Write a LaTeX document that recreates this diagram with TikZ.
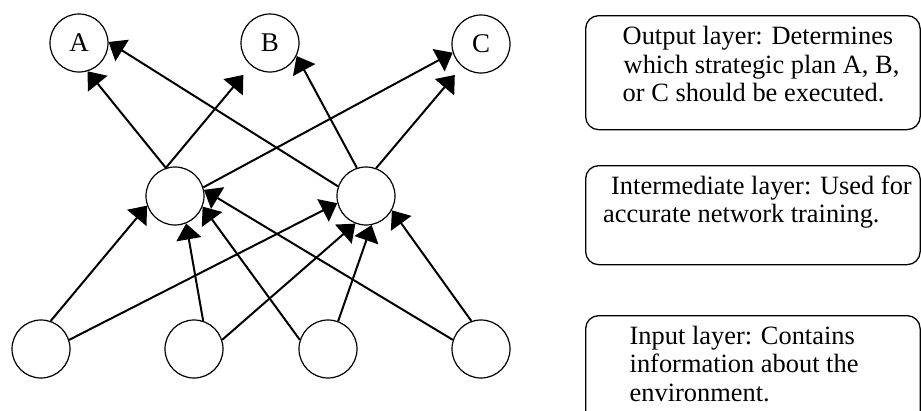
\documentclass[tikz,border=0pt]{standalone}
\usepackage{fontspec}
\setmainfont{Liberation Serif}
\usetikzlibrary{arrows.meta}
\begin{document}
\begin{tikzpicture}[x=1pt,y=-1pt,
  neuron/.style={circle, draw, line width=1.2pt, minimum size=58pt, inner sep=0pt,
                 font=\fontsize{27}{27}\selectfont},
  link/.style={line width=2pt, -{Triangle[length=16pt,width=25pt]}},
  layerbox/.style={draw, line width=1.3pt, rounded corners=13pt, anchor=north west,
                   inner sep=0pt, minimum width=334.5pt},
  note/.style={anchor=base west, inner sep=0pt, font=\fontsize{26.4}{28.7}\selectfont}]
\useasboundingbox (0,0) rectangle (921,410);
\clip (0,0) rectangle (921,410);

% output layer
\node[neuron] (a) at (79,43) {A};
\node[neuron] (b) at (270,43) {B};
\node[neuron] (c) at (481,44) {C};
% hidden layer
\node[neuron] (h1) at (175,196) {};
\node[neuron] (h2) at (366,196) {};
% input layer
\node[neuron] (i1) at (41,349) {};
\node[neuron] (i2) at (194,349) {};
\node[neuron] (i3) at (328,349) {};
\node[neuron] (i4) at (481,349) {};

% hidden -> output
\draw[link] (h1.108) -- (a.287);
\draw[link, shorten >=12pt] (h1.108) -- (b);
\draw[link] (h1.17) -- (c.197);
\draw[link] (h2.161) -- (a.2);
\draw[link] (h2.108) -- (b.334);
\draw[link, shorten >=11pt] (h2.70) -- (c);

% input -> hidden
\draw[link] (i1.71) -- (h1.199);
\draw[link] (i1.18) -- (h2.194);
\draw[link] (i2.72) -- (h1.292);
\draw[link] (i2.18) -- (h2.249);
\draw[link] (i3.162) -- (h1.339);
\draw[link] (i3.70) -- (h2.281);
\draw[link] (i4.162) -- (h1.12);
\draw[link] (i4.109) -- (h2.331);

% layer descriptions
\node[layerbox, minimum height=114pt] (outbox) at (585,15) {};
\node[note] (out1) at (622.5,44.3) {Output layer: Determines};
\node[note] (out2) at (623.5,73) {which strategic plan A, B,};
\node[note] (out3) at (622.5,101.7) {or C should be executed.};

\node[layerbox, minimum height=99pt] (midbox) at (585,165) {};
\node[note] (mid1) at (611,194.3) {Intermediate layer: Used for};
\node[note] (mid2) at (603,222.8) {accurate network training.};

\node[layerbox, minimum height=120pt] (inbox) at (585,315) {};
\node[note] (in1) at (629.5,344.3) {Input layer: Contains};
\node[note] (in2) at (629.5,372.8) {information about the};
\node[note] (in3) at (629.5,401.3) {environment.};
\end{tikzpicture}
\end{document}
